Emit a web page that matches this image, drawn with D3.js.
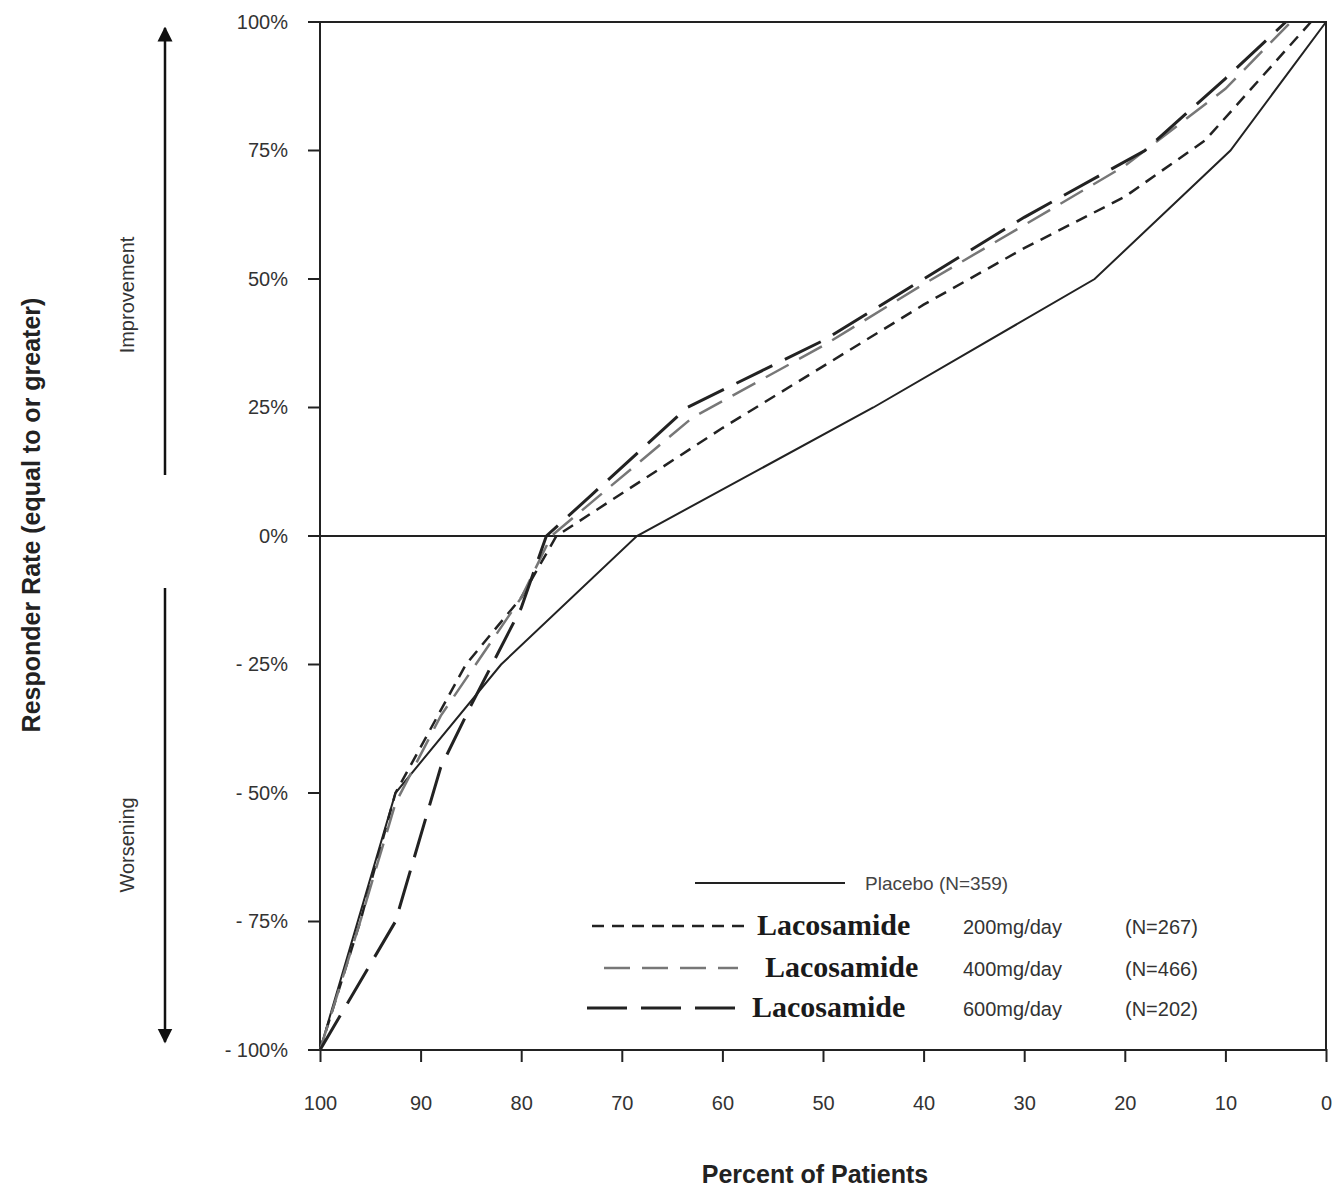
<!DOCTYPE html>
<html>
<head>
<meta charset="utf-8">
<script src="https://cdn.jsdelivr.net/npm/d3@7"></script>
<style>
  body { margin: 0; background: #fff; }
  text { font-family: Arial, "Liberation Sans", sans-serif; }
  text.serif { font-family: "Liberation Serif", "DejaVu Serif", serif; }
</style>
</head>
<body>
<div id="plot"></div>
<script>
// data: [percent of patients, responder rate %]
const placebo = [[100,-100],[92.5,-50],[82,-25],[68.5,0],[45,25],[23,50],[9.5,75],[0,100]];
const laco200 = [[100,-100],[96,-75],[92.5,-50],[85.5,-25],[80,-12],[76.5,0],[60,21],[50,33],[40,45],[30,56],[20,66],[12,77],[1.5,100]];
const laco400 = [[100,-100],[96,-75],[92.5,-52],[88,-35],[80,-12],[77,0],[63,23],[50,37],[40,49],[20,72],[10,87],[3.5,100]];
const laco600 = [[100,-100],[92.5,-75],[88,-45],[85,-33],[80,-14],[77.5,0],[73,8],[63.5,25],[50,38],[40,50],[30,62],[18,75],[10,89],[4,100]];
const xTicks = [100,90,80,70,60,50,40,30,20,10,0];
const yTicks = [100,75,50,25,0,-25,-50,-75,-100];
const legendNames = ["Placebo (N=359)", "200mg/day", "400mg/day", "600mg/day"];
const legendN = ["", "(N=267)", "(N=466)", "(N=202)"];

const W = 1338, H = 1191;
const svg = d3.select("#plot").append("svg").attr("width", W).attr("height", H);

const x = d3.scaleLinear().domain([100, 0]).range([320, 1326]);
const y = d3.scaleLinear().domain([-100, 100]).range([1050, 22]);

// frame
svg.append("rect").attr("x", 320).attr("y", 22).attr("width", 1006).attr("height", 1028)
  .attr("fill", "none").attr("stroke", "#222").attr("stroke-width", 2);
svg.append("line").attr("x1", 320).attr("x2", 1326).attr("y1", y(0)).attr("y2", y(0))
  .attr("stroke", "#222").attr("stroke-width", 2);

// axes
const xAxis = svg.append("g").attr("transform", "translate(0,1050)")
  .call(d3.axisBottom(x).tickValues(xTicks).tickSize(12).tickPadding(34).tickFormat(d3.format("d")));
const yAxis = svg.append("g").attr("transform", "translate(320,0)")
  .call(d3.axisLeft(y).tickValues(yTicks).tickSize(0).tickPadding(32)
    .tickFormat(d => d < 0 ? "- " + Math.abs(d) + "%" : d + "%"));
[xAxis, yAxis].forEach(a => {
  a.select(".domain").remove();
  a.selectAll("line").attr("stroke", "#222").attr("stroke-width", 2);
  a.selectAll("text").attr("font-size", 20).attr("fill", "#333");
});
xAxis.selectAll("line").attr("y1", -1);
svg.append("g").selectAll("line").data(yTicks).join("line")
  .attr("x1", 308).attr("x2", 320).attr("y1", d => y(d)).attr("y2", d => y(d))
  .attr("stroke", "#222").attr("stroke-width", 2);

// lines
const line = d3.line().x(d => x(d[0])).y(d => y(d[1]));
const series = [
  { data: placebo, dash: null, color: "#222", w: 2 },
  { data: laco200, dash: "12,8", color: "#222", w: 2.5 },
  { data: laco400, dash: "26,12", color: "#777", w: 2.5 },
  { data: laco600, dash: "40,14", color: "#222", w: 3 }
];
series.forEach(s => {
  svg.append("path").attr("d", line(s.data)).attr("fill", "none")
    .attr("stroke", s.color).attr("stroke-width", s.w).attr("stroke-dasharray", s.dash);
});

// legend
const lg = svg.append("g");
const legY = [883, 926, 968, 1008];
const legX1 = [695, 592, 604, 587], legX2 = [845, 748, 738, 745];
series.forEach((s, i) => {
  lg.append("line").attr("x1", legX1[i]).attr("x2", legX2[i]).attr("y1", legY[i]).attr("y2", legY[i])
    .attr("stroke", s.color).attr("stroke-width", s.w).attr("stroke-dasharray", s.dash);
  if (i === 0) {
    lg.append("text").attr("x", 865).attr("y", legY[i] + 7).attr("font-size", 19).attr("fill", "#444").text(legendNames[i]);
  } else {
    const lx = [0, 757, 765, 752][i];
    lg.append("text").attr("class", "serif").attr("x", lx).attr("y", legY[i] + 9).attr("font-size", 30)
      .attr("font-weight", "bold").attr("fill", "#1a1a1a").text("Lacosamide");
    lg.append("text").attr("x", 963).attr("y", legY[i] + 8).attr("font-size", 20).attr("fill", "#333").text(legendNames[i]);
    lg.append("text").attr("x", 1125).attr("y", legY[i] + 8).attr("font-size", 20).attr("fill", "#333").text(legendN[i]);
  }
});

// side arrows
const defs = svg.append("defs");
defs.append("marker").attr("id", "ah").attr("viewBox", "0 0 10 10").attr("refX", 9).attr("refY", 5)
  .attr("markerWidth", 6).attr("markerHeight", 8).attr("orient", "auto")
  .append("path").attr("d", "M0,0 L10,5 L0,10 Z").attr("fill", "#111");
svg.append("line").attr("x1", 165).attr("x2", 165).attr("y1", 475).attr("y2", 28)
  .attr("stroke", "#111").attr("stroke-width", 2.5).attr("marker-end", "url(#ah)");
svg.append("line").attr("x1", 165).attr("x2", 165).attr("y1", 588).attr("y2", 1042)
  .attr("stroke", "#111").attr("stroke-width", 2.5).attr("marker-end", "url(#ah)");

svg.append("text").attr("transform", "translate(134,295) rotate(-90)").attr("text-anchor", "middle")
  .attr("font-size", 20).attr("fill", "#333").text("Improvement");
svg.append("text").attr("transform", "translate(134,845) rotate(-90)").attr("text-anchor", "middle")
  .attr("font-size", 20).attr("fill", "#333").text("Worsening");
svg.append("text").attr("transform", "translate(40,515) rotate(-90)").attr("text-anchor", "middle")
  .attr("font-size", 25).attr("font-weight", "bold").attr("fill", "#222").text("Responder Rate (equal to or greater)");
svg.append("text").attr("x", 815).attr("y", 1183).attr("text-anchor", "middle")
  .attr("font-size", 25).attr("font-weight", "bold").attr("fill", "#222").text("Percent of Patients");
</script>
</body>
</html>
